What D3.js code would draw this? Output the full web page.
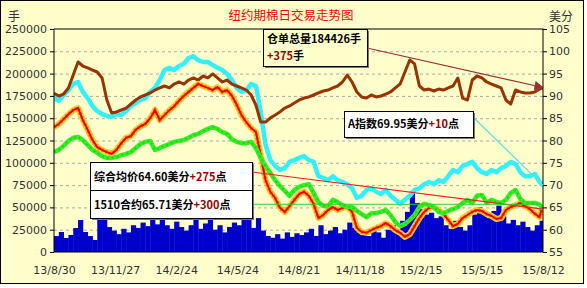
<!DOCTYPE html>
<html>
<head>
<meta charset="utf-8">
<script src="https://cdn.jsdelivr.net/npm/d3@7"></script>
<style>
  body { margin: 0; background: #fff; }
  text { font-family: "DejaVu Sans", sans-serif; }
  .note { font-family: "Noto Sans CJK SC", sans-serif; font-weight: bold; font-size: 11px; }
</style>
</head>
<body>
<div id="chart"></div>
<script>
// weekly samples from 13/8/30, last point is 15/8/12
const startDate = "2013-08-30";
const lastDate = "2015-08-12";
const tickLabels = ["13/8/30", "13/11/27", "14/2/24", "14/5/24", "14/8/21", "14/11/18", "15/2/15", "15/5/15", "15/8/12"];
const leftTicks = [0, 25000, 50000, 75000, 100000, 125000, 150000, 175000, 200000, 225000, 250000];
const rightTicks = [55, 60, 65, 70, 75, 80, 85, 90, 95, 100, 105];

// volume bars (left axis)
const volume = [
  17900, 22400, 15700, 19100, 26900, 35900, 22400, 17900, 13500, 38000,
  36000, 28000, 24000, 20000, 26000, 22000, 30000, 27000, 33000, 29000,
  36000, 31000, 38000, 30000, 26000, 34000, 28000, 24000, 30000, 36000,
  26000, 32000, 37000, 25000, 30000, 22000, 28000, 33000, 30000, 40000,
  36000, 27000, 38000, 24000, 18000, 16000, 20000, 15000, 22000, 17000,
  21000, 19000, 22000, 26000, 18000, 30000, 20000, 24000, 28000, 21000,
  25000, 33000, 27000, 22000, 20000, 18000, 24000, 22000, 16000, 25000,
  30000, 23000, 35000, 45000, 68000, 55000, 48000, 42000, 44000, 38000,
  40000, 30000, 26000, 35000, 28000, 24000, 30000, 42000, 50000, 44000,
  38000, 46000, 52000, 40000, 32000, 36000, 30000, 34000, 28000, 24000,
  30000, 35000, 36000
];

// warehouse receipts (left axis)
const receipts = [
  178000, 174900, 177100, 183900, 198400, 213000, 208500, 206300, 204000, 201800,
  195100, 170400, 155800, 157000, 159200, 161400, 165900, 170400, 173800, 176000,
  178300, 181600, 183900, 186100, 183900, 188300, 190600, 188300, 192800, 195100,
  192800, 197300, 195100, 199600, 195100, 190600, 192800, 188300, 186100, 183900,
  181600, 176000, 164800, 145700, 145700, 150200, 153600, 157000, 161400, 163700,
  167000, 170400, 172600, 173800, 176000, 178300, 180500, 181600, 183900, 186100,
  190600, 198400, 190600, 179400, 173800, 172600, 176000, 173800, 174900, 177100,
  179400, 183900, 188300, 201800, 215300, 210800, 186100, 181600, 182700, 180500,
  182700, 181600, 183900, 186100, 195100, 172600, 170400, 192800, 197300, 195100,
  190600, 188300, 186100, 183900, 170400, 165900, 181600, 179400, 178300, 178300,
  179400, 182700, 184426
];

// A index (right axis)
const aIndex = [
  89.5, 88.9, 90.2, 91.3, 92.7, 93.1, 90.9, 89.5, 87.7, 86.6,
  85.9, 85.5, 85.3, 85.9, 85.7, 86.6, 87.7, 88.4, 89.1, 89.5,
  90.9, 91.8, 93.6, 95.8, 96.3, 95.8, 96.7, 97.2, 98.5, 98.9,
  98.0, 97.6, 97.6, 96.9, 96.3, 95.8, 94.9, 93.6, 91.8, 90.9,
  91.3, 92.7, 92.2, 86.4, 79.0, 75.6, 74.3, 73.4, 73.8, 75.2,
  75.6, 76.1, 76.5, 75.6, 75.2, 72.0, 71.6, 71.1, 72.0, 71.1,
  70.7, 70.2, 69.3, 67.1, 67.6, 68.9, 69.3, 68.5, 68.0, 68.9,
  67.6, 66.7, 65.8, 66.7, 67.6, 68.9, 69.3, 70.2, 70.7, 70.2,
  71.1, 70.7, 72.0, 73.4, 72.9, 74.3, 74.7, 75.2, 73.8, 72.9,
  72.5, 73.4, 72.9, 73.8, 74.3, 75.2, 74.7, 72.9, 72.0, 72.0,
  72.5, 70.7, 69.95
];

// 1510 contract (right axis)
const contract1510 = [
  83.0, 83.7, 84.8, 85.9, 86.8, 87.3, 84.6, 82.4, 80.1, 78.5,
  77.9, 77.4, 77.0, 77.9, 79.4, 80.6, 81.0, 82.4, 83.2, 83.7,
  85.0, 86.8, 84.6, 85.7, 86.8, 87.7, 88.9, 90.0, 90.9, 91.8,
  92.7, 92.2, 91.8, 91.3, 92.0, 90.9, 91.3, 90.0, 88.0, 85.7,
  84.1, 82.8, 81.9, 76.7, 71.1, 68.5, 67.1, 64.9, 64.0, 65.3,
  66.7, 68.0, 68.5, 67.6, 65.8, 62.6, 63.3, 64.4, 65.1, 64.4,
  64.9, 65.1, 64.0, 60.4, 59.5, 59.3, 59.9, 60.4, 60.8, 61.5,
  60.8, 59.9, 59.3, 58.4, 59.0, 60.8, 62.6, 64.0, 64.9, 65.1,
  64.4, 63.5, 62.2, 60.8, 61.3, 62.6, 63.3, 64.0, 64.4, 64.2,
  63.5, 63.1, 62.4, 62.6, 64.4, 65.1, 65.5, 66.0, 65.3, 64.6,
  63.6, 62.8, 65.71
];

// composite average price (right axis)
const avgPrice = [
  77.4, 77.9, 78.8, 79.9, 80.6, 80.8, 80.1, 79.0, 77.9, 77.2,
  76.5, 76.1, 76.1, 76.3, 76.7, 77.0, 77.4, 78.3, 79.2, 79.7,
  79.9, 77.9, 78.3, 78.8, 79.2, 79.7, 79.9, 80.1, 80.6, 81.2,
  81.5, 82.1, 82.6, 83.0, 82.6, 81.9, 81.5, 80.3, 79.7, 79.4,
  79.4, 79.7, 78.3, 76.1, 74.3, 72.7, 71.1, 69.8, 68.7, 67.6,
  68.9, 69.6, 70.0, 70.2, 68.2, 66.2, 65.3, 65.3, 66.7, 66.2,
  65.5, 65.1, 65.1, 64.2, 63.5, 62.8, 63.7, 63.7, 64.0, 64.4,
  63.3, 61.7, 60.8, 61.3, 62.2, 63.3, 65.1, 65.8, 65.5, 65.1,
  64.0, 63.7, 64.2, 64.6, 65.1, 66.0, 66.7, 66.0, 67.6, 67.8,
  66.0, 66.7, 66.2, 66.0, 66.7, 68.2, 68.9, 66.9, 66.0, 66.0,
  66.0, 65.6, 64.6
];

const parseDay = d3.timeParse("%Y-%m-%d");
const parseTick = d3.timeParse("%y/%m/%d");
const start = parseDay(startDate);
const end = parseDay(lastDate);
const dates = receipts.map((d, i) => (i < receipts.length - 1 ? d3.timeDay.offset(start, 7 * i) : end));
const tickDates = tickLabels.map(parseTick);

const width = 587, height = 288;
const margin = { top: 29, right: 44, bottom: 36, left: 54 };
const plotW = width - margin.left - margin.right;
const plotH = height - margin.top - margin.bottom;

const x = d3.scaleTime().domain([start, end]).range([margin.left, margin.left + plotW]);
const yL = d3.scaleLinear().domain([0, 250000]).range([margin.top + plotH, margin.top]);
const yR = d3.scaleLinear().domain([55, 105]).range([margin.top + plotH, margin.top]);

const svg = d3.select("#chart").append("svg").attr("width", width).attr("height", height);

// background + outer frame
svg.append("rect")
  .attr("x", 0.5).attr("y", 0.5).attr("width", 583).attr("height", 283)
  .attr("fill", "#FFFFCC").attr("stroke", "#000");

svg.append("defs").append("clipPath").attr("id", "clip")
  .append("rect").attr("x", margin.left).attr("y", margin.top).attr("width", plotW).attr("height", plotH);

svg.select("defs").append("marker")
  .attr("id", "arrow").attr("viewBox", "0 0 10 10").attr("refX", 9).attr("refY", 5)
  .attr("markerWidth", 8).attr("markerHeight", 8).attr("orient", "auto")
  .append("path").attr("d", "M0,0 L10,5 L0,10 z").attr("fill", "#993333");

// dashed gridlines
svg.append("g")
  .attr("transform", `translate(${margin.left},0)`)
  .call(d3.axisLeft(yL).tickValues(leftTicks.slice(1, -1)).tickSize(-plotW).tickFormat(""))
  .call(g => g.select(".domain").remove())
  .selectAll("line").attr("stroke", "#AAAAAA").attr("stroke-dasharray", "3,3");

const plot = svg.append("g").attr("clip-path", "url(#clip)");

// volume bars
const step = x(d3.timeDay.offset(start, 7)) - x(start);
plot.append("g").selectAll("rect").data(volume).join("rect")
  .attr("x", (d, i) => x(dates[i]))
  .attr("y", d => yL(d))
  .attr("width", step + 0.4)
  .attr("height", d => yL(0) - yL(d))
  .attr("fill", "#0000CC");

const lineL = d3.line().x((d, i) => x(dates[i])).y(d => yL(d));
const lineR = d3.line().x((d, i) => x(dates[i])).y(d => yR(d));

// A index
plot.append("path").datum(aIndex).attr("d", lineR)
  .attr("fill", "none").attr("stroke", "#33F0FF").attr("stroke-width", 4.5).attr("stroke-linejoin", "round");

// receipts
plot.append("path").datum(receipts).attr("d", lineL)
  .attr("fill", "none").attr("stroke", "#993300").attr("stroke-width", 3).attr("stroke-linejoin", "round");

// 1510 contract: yellow/orange halo with red core
plot.append("path").datum(contract1510).attr("d", lineR)
  .attr("fill", "none").attr("stroke", "#FFCC33").attr("stroke-width", 6).attr("stroke-linejoin", "round");
plot.append("path").datum(contract1510).attr("d", lineR)
  .attr("fill", "none").attr("stroke", "#FF8800").attr("stroke-width", 4).attr("stroke-dasharray", "2,2");
plot.append("path").datum(contract1510).attr("d", lineR)
  .attr("fill", "none").attr("stroke", "#EE0000").attr("stroke-width", 2);

// composite average
plot.append("path").datum(avgPrice).attr("d", lineR)
  .attr("fill", "none").attr("stroke", "#33EE22").attr("stroke-width", 4.5).attr("stroke-linejoin", "round");
plot.append("path").datum(avgPrice).attr("d", lineR)
  .attr("fill", "none").attr("stroke", "#22CC11").attr("stroke-width", 1.5).attr("stroke-dasharray", "2,3");

// plot border
svg.append("rect")
  .attr("x", margin.left).attr("y", margin.top).attr("width", plotW).attr("height", plotH)
  .attr("fill", "none").attr("stroke", "#000");

// axes
const styleAxis = g => {
  g.select(".domain").remove();
  g.selectAll("text").attr("fill", "#333").style("font-size", "11px");
  g.selectAll("line").attr("stroke", "#000");
};
svg.append("g").attr("transform", `translate(${margin.left},0)`)
  .call(d3.axisLeft(yL).tickValues(leftTicks).tickSize(4).tickPadding(3).tickFormat(d3.format("d")))
  .call(styleAxis);
svg.append("g").attr("transform", `translate(${margin.left + plotW},0)`)
  .call(d3.axisRight(yR).tickValues(rightTicks).tickSize(4).tickPadding(2))
  .call(styleAxis);
svg.append("g").attr("transform", `translate(0,${margin.top + plotH})`)
  .call(d3.axisBottom(x).tickValues(tickDates).tickSize(0).tickPadding(14).tickFormat((d, i) => tickLabels[i]))
  .call(styleAxis);

// title and units
svg.append("text").attr("x", 291).attr("y", 20).attr("text-anchor", "middle")
  .style("font-family", "Noto Sans CJK SC").style("font-size", "12.5px").attr("fill", "#FF0000")
  .text("纽约期棉日交易走势图");
svg.append("text").attr("x", 8).attr("y", 21)
  .style("font-family", "Noto Sans CJK SC").style("font-size", "12px").attr("fill", "#333").text("手");
svg.append("text").attr("x", 549).attr("y", 21)
  .style("font-family", "Noto Sans CJK SC").style("font-size", "12px").attr("fill", "#333").text("美分");

// annotation boxes
function box(x0, y0, w, h, fill) {
  svg.append("rect").attr("x", x0 + 2).attr("y", y0 + 2).attr("width", w).attr("height", h).attr("fill", "#777");
  svg.append("rect").attr("x", x0 + 0.5).attr("y", y0 + 0.5).attr("width", w).attr("height", h)
    .attr("fill", fill).attr("stroke", "#000");
}
function note(x0, y0, parts) {
  const t = svg.append("text").attr("class", "note").attr("x", x0).attr("y", y0);
  parts.forEach(([s, c]) => t.append("tspan").attr("fill", c).text(s));
}

const last = dates.length - 1;

// receipts note + arrow
svg.append("line")
  .attr("x1", 367).attr("y1", 48).attr("x2", x(dates[last])).attr("y2", yL(receipts[last]))
  .attr("stroke", "#993333").attr("stroke-width", 1.2).attr("marker-end", "url(#arrow)");
box(263, 29, 104, 37, "#FFFFCC");
note(267, 43, [["仓单总量184426手", "#000"]]);
note(267, 60, [["+375", "#990000"], ["手", "#000"]]);

// A index note
svg.append("line")
  .attr("x1", 473).attr("y1", 117).attr("x2", x(dates[last])).attr("y2", yR(aIndex[last]))
  .attr("stroke", "#66DDDD").attr("stroke-width", 1.2);
box(344, 111, 129, 26, "#FFFFFF");
note(348, 128, [["A指数69.95美分", "#000"], ["+10", "#990000"], ["点", "#000"]]);

// average / 1510 note
svg.append("line")
  .attr("x1", 252).attr("y1", 172).attr("x2", x(dates[last])).attr("y2", yR(avgPrice[last]))
  .attr("stroke", "#EE2222").attr("stroke-width", 1.2);
svg.append("line")
  .attr("x1", 252).attr("y1", yR(contract1510[last])).attr("x2", x(dates[last])).attr("y2", yR(contract1510[last]))
  .attr("stroke", "#33CC33").attr("stroke-width", 1.2);
box(90, 162, 162, 56, "#FFFFFF");
svg.append("line").attr("x1", 90).attr("x2", 252).attr("y1", 190.5).attr("y2", 190.5).attr("stroke", "#000");
note(94, 181, [["综合均价64.60美分", "#000"], ["+275", "#990000"], ["点", "#000"]]);
note(94, 209, [["1510合约65.71美分", "#000"], ["+300", "#990000"], ["点", "#000"]]);
</script>
</body>
</html>
